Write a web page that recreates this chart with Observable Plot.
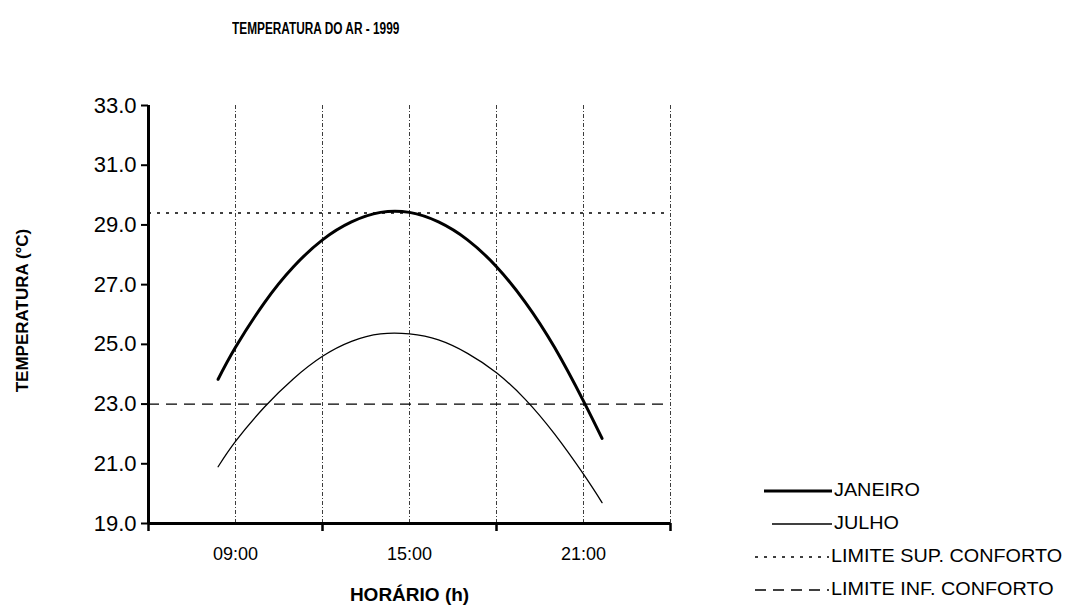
<!DOCTYPE html>
<html><head><meta charset="utf-8">
<script src="https://cdn.jsdelivr.net/npm/d3@7"></script>
<script src="https://cdn.jsdelivr.net/npm/@observablehq/plot@0.6"></script>
<style>
body{margin:0;background:#fff;font-family:"Liberation Sans",Arial,sans-serif;color:#000;}
#wrap{position:relative;width:1081px;height:614px;overflow:hidden;}
#title{position:absolute;top:20px;left:232px;font-weight:bold;font-size:16px;white-space:nowrap;transform:scaleX(0.74);transform-origin:left center;}
#legend{position:absolute;left:755px;top:474px;font-size:18px;}
#legend .row{position:relative;height:33px;display:flex;align-items:center;}
#legend svg{display:block;margin-right:2px;}
#legend span{display:inline-block;transform:scaleX(1.1);transform-origin:left center;white-space:nowrap;}
#chart{position:absolute;left:0;top:0;}
</style></head>
<body>
<div id="wrap">
<div id="chart"></div>
<div id="title">TEMPERATURA DO AR - 1999</div>
<div id="legend"></div>
</div>
<script>
// Data (hour of day, °C)
const janHours = [8.4, 9, 10, 11, 12, 13, 14, 15, 16, 17, 18, 19, 20, 21, 21.64];
const janeiro  = [23.83, 24.9, 26.4, 27.6, 28.5, 29.1, 29.42, 29.42, 29.1, 28.5, 27.6, 26.4, 24.9, 23.1, 21.85];
const julHours = [8.4, 9, 10, 11, 12, 13, 14, 15, 16, 17, 18, 19, 20, 21, 21.64];
const julho    = [20.9, 21.75, 22.9, 23.85, 24.6, 25.1, 25.35, 25.35, 25.15, 24.7, 24.05, 23.15, 22.0, 20.65, 19.7];
const limiteSup = 29.4;
const limiteInf = 23.0;
const yTicks = [19, 21, 23, 25, 27, 29, 31, 33];
const xLabelHours = [9, 15, 21];
const xLabels = ["09:00", "15:00", "21:00"];
const xTickHours = [6, 12, 18, 24];
const gridHours = [9, 12, 15, 18, 21, 24];
const seriesNames = ["JANEIRO", "JULHO", "LIMITE SUP. CONFORTO", "LIMITE INF. CONFORTO"];

const janData = janHours.map((h, i) => ({h, t: janeiro[i]}));
const julData = julHours.map((h, i) => ({h, t: julho[i]}));

const chart = Plot.plot({
  width: 1081,
  height: 614,
  marginLeft: 148,
  marginRight: 411,
  marginTop: 105,
  marginBottom: 91,
  style: {fontFamily: "Liberation Sans, Arial, sans-serif", color: "#000", background: "#fff"},
  x: {domain: [6, 24]},
  y: {domain: [19, 33]},
  marks: [
    Plot.ruleX(gridHours, {y1: 19, y2: 33, stroke: "#000", strokeWidth: 0.9, strokeDasharray: "4,2,1,2", strokeOpacity: 0.85}),
    Plot.ruleY([limiteSup], {stroke: "#000", strokeWidth: 1.6, strokeDasharray: "3,6"}),
    Plot.ruleY([limiteInf], {stroke: "#000", strokeWidth: 1.3, strokeDasharray: "11,7"}),
    Plot.line(julData, {x: "h", y: "t", curve: "natural", stroke: "#000", strokeWidth: 1.3}),
    Plot.line(janData, {x: "h", y: "t", curve: "natural", stroke: "#000", strokeWidth: 3}),
    Plot.axisY({ticks: yTicks, tickFormat: d => d.toFixed(1), tickSize: 7, tickPadding: 5, fontSize: 22, label: null, strokeWidth: 2}),
    Plot.axisX({ticks: xTickHours, tickFormat: () => "", tickSize: 8, label: null, strokeWidth: 2.5}),
    Plot.axisX(xLabelHours, {tickFormat: (d, i) => xLabels[i], tickSize: 0, tickPadding: 24, fontSize: 18, label: null}),
    Plot.ruleX([6], {stroke: "#000", strokeWidth: 3}),
    Plot.ruleY([19], {stroke: "#000", strokeWidth: 3}),
    Plot.text(["HORÁRIO (h)"], {frameAnchor: "bottom", text: d => d, dy: 77, fontSize: 19, fontWeight: "bold"}),
    Plot.text(["TEMPERATURA (°C)"], {frameAnchor: "left", textAnchor: "middle", text: d => d, rotate: -90, dx: -126, dy: -4, fontSize: 17, fontWeight: "bold"})
  ]
});
document.getElementById("chart").appendChild(chart);

// Legend
const styles = [
  {w: 3, dash: null, len: 68, pad: 9},
  {w: 1.3, dash: null, len: 60, pad: 17},
  {w: 1.6, dash: "3,6", len: 74, pad: 0},
  {w: 1.3, dash: "11,7", len: 74, pad: 0}
];
const legend = document.getElementById("legend");
seriesNames.forEach((name, i) => {
  const s = styles[i];
  const row = document.createElement("div");
  row.className = "row";
  const svg = d3.create("svg").attr("width", s.len + s.pad).attr("height", 10);
  svg.append("line").attr("x1", s.pad).attr("x2", s.pad + s.len).attr("y1", 5).attr("y2", 5)
    .attr("stroke", "#000").attr("stroke-width", s.w).attr("stroke-dasharray", s.dash);
  row.appendChild(svg.node());
  const span = document.createElement("span");
  span.textContent = name;
  row.appendChild(span);
  legend.appendChild(row);
});
</script>
</body></html>
